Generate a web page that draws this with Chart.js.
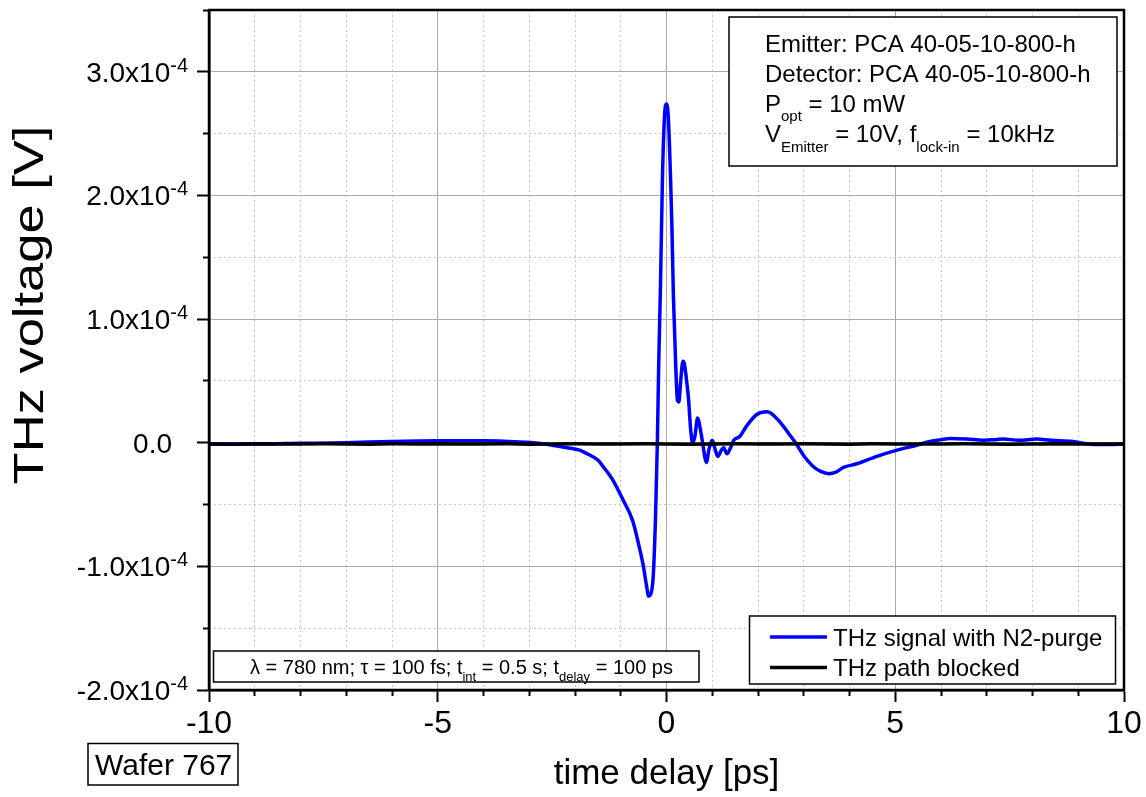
<!DOCTYPE html>
<html>
<head>
<meta charset="utf-8">
<script src="https://cdn.jsdelivr.net/npm/chart.js@4.4.1/dist/chart.umd.min.js"></script>
<style>
  html, body { margin: 0; padding: 0; background: #fff; }
  canvas { display: block; }
</style>
</head>
<body>
<canvas id="chart" width="1146" height="797"></canvas>
<script>
const FONT = '"Liberation Sans", Arial, sans-serif';

// THz signal with N2-purge: time delay [ps], voltage [1e-4 V]
const purgeTime = [-10, -9, -8, -7, -6, -5, -4, -3.2, -2.8, -2.5, -2.17, -1.9, -1.73, -1.5, -1.37, -1.16,
  -0.94, -0.74, -0.61, -0.5, -0.44, -0.39, -0.34, -0.29, -0.24, -0.2, -0.17, -0.13, -0.09, -0.04, 0,
  0.04, 0.09, 0.12, 0.15, 0.2, 0.24, 0.27, 0.31, 0.36, 0.39, 0.44, 0.48, 0.53, 0.57, 0.62,
  0.68, 0.72, 0.78, 0.84, 0.87, 0.93, 1.0, 1.06, 1.12, 1.2, 1.25, 1.32, 1.4, 1.47, 1.6,
  1.76, 1.98, 2.2, 2.45, 2.66, 2.82, 3.03, 3.2, 3.36, 3.55, 3.69, 3.87, 4.16, 4.6, 5.04,
  5.47, 5.76, 6.0, 6.2, 6.56, 6.93, 7.2, 7.36, 7.7, 8.09, 8.4, 8.89, 9.2, 9.6, 10];
const purgeVolt = [-0.01, -0.01, -0.005, 0, 0.01, 0.015, 0.015, 0.005, -0.005, -0.02, -0.04, -0.06, -0.09, -0.14, -0.2, -0.31,
  -0.47, -0.63, -0.82, -1.01, -1.15, -1.24, -1.22, -1.08, -0.6, 0, 0.64, 1.3, 2.12, 2.66, 2.74,
  2.63, 2.12, 1.72, 1.2, 0.64, 0.34, 0.33, 0.5, 0.66, 0.64, 0.5, 0.36, 0.1, 0, 0.05,
  0.2, 0.15, 0.02, -0.12, -0.16, -0.05, 0.02, -0.05, -0.11, -0.06, -0.04, -0.09, -0.04, 0.02, 0.05,
  0.14, 0.23, 0.25, 0.18, 0.08, 0, -0.12, -0.19, -0.23, -0.25, -0.24, -0.2, -0.17, -0.11, -0.06,
  -0.02, 0.01, 0.025, 0.035, 0.03, 0.02, 0.025, 0.03, 0.02, 0.03, 0.02, 0.01, -0.01, -0.015, -0.01];

// THz path blocked
const blockedTime = [-10, -9.5, -9, -8.5, -8, -7.5, -7, -6.5, -6, -5.5, -5, -4.5, -4, -3.5, -3, -2.5, -2, -1.5, -1, -0.5,
  0, 0.5, 1, 1.5, 2, 2.5, 3, 3.5, 4, 4.5, 5, 5.5, 6, 6.5, 7, 7.5, 8, 8.5, 9, 9.5, 10];
const blockedVolt = [-0.01, -0.012, -0.008, -0.01, -0.011, -0.009, -0.01, -0.012, -0.009, -0.01, -0.008, -0.011, -0.01, -0.009, -0.012, -0.01, -0.008, -0.01, -0.011, -0.009,
  -0.01, -0.012, -0.01, -0.009, -0.011, -0.01, -0.008, -0.01, -0.012, -0.009, -0.01, -0.011, -0.01, -0.009, -0.01, -0.012, -0.01, -0.008, -0.011, -0.01, -0.01];

const xTicks = [-10, -5, 0, 5, 10];
const yTicks = [-2, -1, 0, 1, 2, 3];

const seriesLabels = ['THz signal with N2-purge', 'THz path blocked'];
const seriesColors = ['#0000ff', '#000000'];

const toPoints = (xs, ys) => xs.map((x, i) => ({x, y: ys[i]}));

const isInt = v => Math.abs(v - Math.round(v)) < 1e-6;
const minorColor = major => c => (c.tick && major(c.tick.value)) ? 'rgba(0,0,0,0)' : '#c8c8c8';
const minorTick = major => c => (c.tick && major(c.tick.value)) ? 'rgba(0,0,0,0)' : '#000';
const isMajorX = v => isInt(v / 5);

function rich(ctx, x, y, parts, size, subSize, drop) {
  parts.forEach(([txt, sub]) => {
    ctx.font = `${sub ? subSize : size}px ${FONT}`;
    ctx.fillText(txt, x, sub ? y + drop : y);
    x += ctx.measureText(txt).width;
  });
}

function box(ctx, x, y, w, h) {
  ctx.fillStyle = '#fff';
  ctx.fillRect(x, y, w, h);
  ctx.strokeStyle = '#000';
  ctx.lineWidth = 1.5;
  ctx.strokeRect(x, y, w, h);
  ctx.fillStyle = '#000';
}

const overlay = {
  id: 'overlay',
  afterDraw(chart) {
    const {ctx, chartArea: a, scales: {y}} = chart;
    ctx.save();
    ctx.strokeStyle = '#000';
    ctx.lineWidth = 2.5;
    ctx.strokeRect(a.left, a.top, a.right - a.left, a.bottom - a.top);

    // y tick labels with superscript exponent
    ctx.fillStyle = '#000';
    ctx.textBaseline = 'alphabetic';
    ctx.textAlign = 'right';
    yTicks.forEach(v => {
      const py = y.getPixelForValue(v);
      if (v === 0) {
        ctx.font = `28px ${FONT}`;
        ctx.fillText('0.0', 172, py + 10);
        return;
      }
      ctx.font = `20px ${FONT}`;
      ctx.fillText('-4', 188, py);
      const w = ctx.measureText('-4').width;
      ctx.font = `28px ${FONT}`;
      ctx.fillText(v.toFixed(1) + 'x10', 188 - w, py + 10);
    });

    // y axis title
    ctx.save();
    ctx.translate(31, 305);
    ctx.rotate(-Math.PI / 2);
    ctx.scale(1.25, 1);
    ctx.font = `42px ${FONT}`;
    ctx.textAlign = 'center';
    ctx.textBaseline = 'middle';
    ctx.fillText('THz voltage [V]', 0, 0);
    ctx.restore();

    ctx.textAlign = 'left';
    ctx.textBaseline = 'alphabetic';

    // settings box
    box(ctx, 729, 17, 388, 149);
    rich(ctx, 765, 52, [['Emitter: PCA 40-05-10-800-h', 0]], 24, 15, 9);
    rich(ctx, 765, 82, [['Detector: PCA 40-05-10-800-h', 0]], 24, 15, 9);
    rich(ctx, 765, 112, [['P', 0], ['opt', 1], [' = 10 mW', 0]], 24, 15, 9);
    rich(ctx, 765, 142, [['V', 0], ['Emitter', 1], [' = 10V, f', 0], ['lock-in', 1], [' = 10kHz', 0]], 24, 15, 10);

    // measurement box
    box(ctx, 213.5, 651, 485.5, 31);
    rich(ctx, 250, 674, [['λ = 780 nm; τ = 100 fs; t', 0], ['int', 1], [' = 0.5 s; t', 0], ['delay', 1], [' = 100 ps', 0]], 20, 13, 7);

    // legend
    box(ctx, 749.5, 616, 366, 68);
    chart.data.datasets.forEach((ds, i) => {
      const ly = 637 + i * 30.5;
      ctx.strokeStyle = ds.borderColor;
      ctx.lineWidth = 3.5;
      ctx.beginPath();
      ctx.moveTo(770, ly);
      ctx.lineTo(827, ly);
      ctx.stroke();
      ctx.fillStyle = '#000';
      ctx.font = `24px ${FONT}`;
      ctx.fillText(ds.label, 833, ly + 8.5);
    });

    // sample label
    box(ctx, 88, 743.5, 150, 41.5);
    ctx.font = `30px ${FONT}`;
    ctx.fillText('Wafer 767', 95, 775);
    ctx.restore();
  }
};

new Chart(document.getElementById('chart'), {
  type: 'line',
  data: {
    datasets: [
      {
        label: seriesLabels[0],
        data: toPoints(purgeTime, purgeVolt),
        borderColor: seriesColors[0],
        borderWidth: 3.5,
        cubicInterpolationMode: 'monotone',
        order: 1
      },
      {
        label: seriesLabels[1],
        data: toPoints(blockedTime, blockedVolt),
        borderColor: seriesColors[1],
        borderWidth: 3.5,
        order: 0
      }
    ]
  },
  options: {
    responsive: false,
    animation: false,
    events: [],
    layout: {padding: {top: 10, right: 22, left: 0, bottom: 0}},
    elements: {point: {radius: 0}},
    plugins: {legend: {display: false}, tooltip: {enabled: false}},
    scales: {
      x: {
        type: 'linear', position: 'bottom', weight: 1,
        min: -10, max: 10,
        afterBuildTicks: s => { s.ticks = xTicks.map(v => ({value: v})); },
        afterFit: s => { s.height = 107; },
        ticks: {font: {size: 32, family: FONT}, color: '#000', padding: 3, maxRotation: 0, autoSkip: false},
        grid: {color: '#aaaaaa', lineWidth: 1, tickLength: 12, tickColor: '#000', tickWidth: 2},
        border: {color: '#000', width: 2.5},
        title: {display: true, text: 'time delay [ps]', color: '#000', font: {size: 35, family: FONT}, padding: {top: 0, bottom: 2}}
      },
      xMinor: {
        type: 'linear', position: 'bottom', weight: 0,
        min: -10, max: 10,
        afterFit: s => { s.height = 0; },
        ticks: {display: false, stepSize: 1, autoSkip: false},
        grid: {color: minorColor(isMajorX), lineWidth: 1, tickLength: 6, tickColor: minorTick(isMajorX), tickWidth: 2},
        border: {display: false, dash: [2, 3]}
      },
      y: {
        type: 'linear', position: 'left', weight: 1,
        min: -2, max: 3.5,
        afterBuildTicks: s => { s.ticks = yTicks.map(v => ({value: v})); },
        afterFit: s => { s.width = 209; },
        ticks: {display: false},
        grid: {color: '#aaaaaa', lineWidth: 1, tickLength: 12, tickColor: '#000', tickWidth: 2},
        border: {color: '#000', width: 2.5}
      },
      yMinor: {
        type: 'linear', position: 'left', weight: 0,
        min: -2, max: 3.5,
        afterFit: s => { s.width = 0; },
        ticks: {display: false, stepSize: 0.5},
        grid: {color: minorColor(isInt), lineWidth: 1, tickLength: 6, tickColor: minorTick(isInt), tickWidth: 2},
        border: {display: false, dash: [2, 3]}
      }
    }
  },
  plugins: [overlay]
});
</script>
</body>
</html>
